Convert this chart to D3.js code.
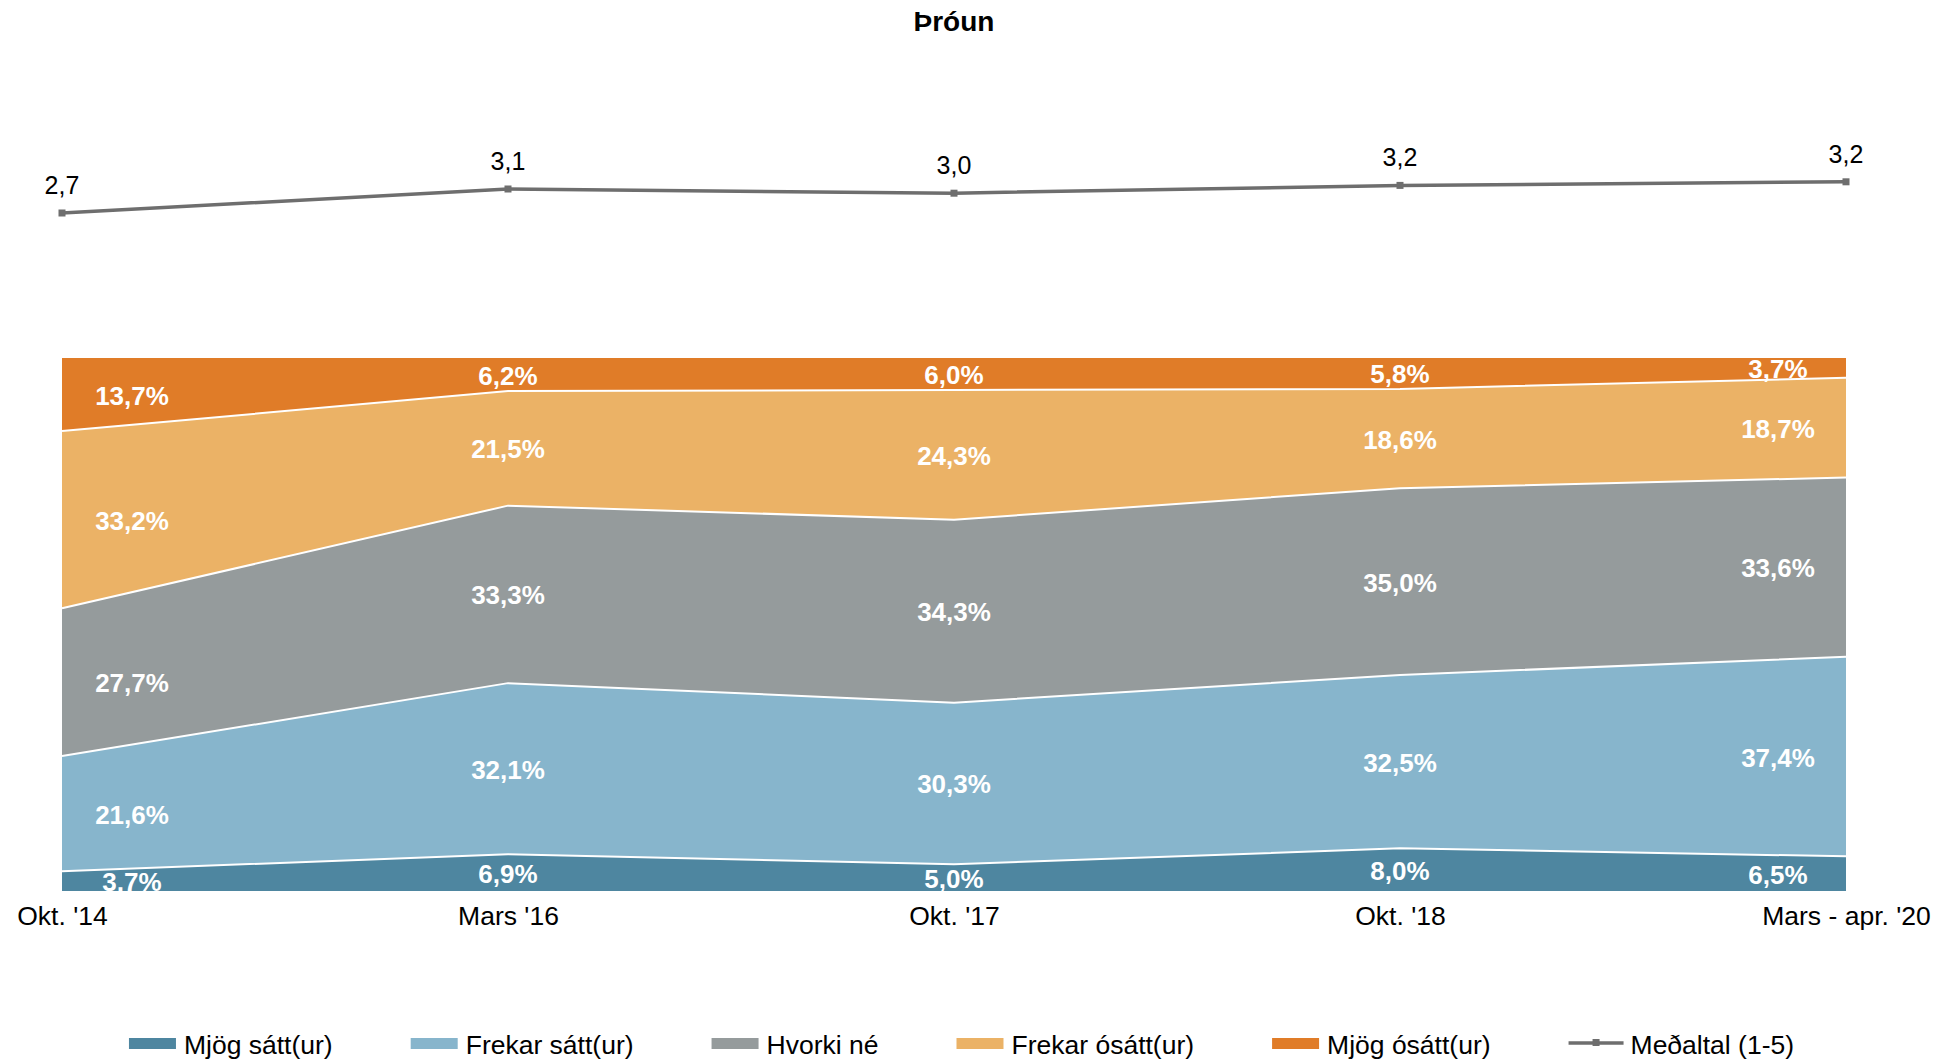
<!DOCTYPE html>
<html>
<head>
<meta charset="utf-8">
<script src="https://cdn.jsdelivr.net/npm/d3@7"></script>
<style>
  body { margin: 0; background: #fff; }
  svg { display: block; font-family: "Liberation Sans", Arial, sans-serif; }
</style>
</head>
<body>
<div id="app"></div>
<script>
// data
const categories = ["Okt. '14", "Mars '16", "Okt. '17", "Okt. '18", "Mars - apr. '20"]
const seriesNames = ['Mjög sátt(ur)', 'Frekar sátt(ur)', 'Hvorki né', 'Frekar ósátt(ur)', 'Mjög ósátt(ur)']
const mjogSatt = [3.7, 6.9, 5.0, 8.0, 6.5]
const frekarSatt = [21.6, 32.1, 30.3, 32.5, 37.4]
const hvorkiNe = [27.7, 33.3, 34.3, 35.0, 33.6]
const frekarOsatt = [33.2, 21.5, 24.3, 18.6, 18.7]
const mjogOsatt = [13.7, 6.2, 6.0, 5.8, 3.7]
const medaltal = [2.70, 3.10, 3.03, 3.16, 3.22]
const lineName = 'Meðaltal (1-5)'
const colors = ['#4e86a0', '#87b5cc', '#959b9c', '#ebb266', '#e07c28']
const lineColor = '#6e6e6e'

const w = 1949, h = 1061
const plot = {left: 62, right: 1846, top: 358, bottom: 891}

const svg = d3.select('#app').append('svg')
  .attr('width', w)
  .attr('height', h)

// title
svg.append('text')
  .attr('x', 954).attr('y', 31)
  .attr('text-anchor', 'middle')
  .style('font-size', '28px').style('font-weight', 'bold')
  .text('Þróun')

const table = categories.map((c, i) => ({
  cat: c,
  s0: mjogSatt[i], s1: frekarSatt[i], s2: hvorkiNe[i], s3: frekarOsatt[i], s4: mjogOsatt[i]
}))
const keys = ['s0', 's1', 's2', 's3', 's4']
const stacked = d3.stack().keys(keys).offset(d3.stackOffsetExpand)(table)

const x = d3.scalePoint().domain(categories).range([plot.left, plot.right])
const y = d3.scaleLinear().domain([0, 1]).range([plot.bottom, plot.top])
// secondary axis for the average line
const yLine = d3.scaleLinear().domain([0, 5]).range([375, 75])

const area = d3.area()
  .x(d => x(d.data.cat))
  .y0(d => y(d[0]))
  .y1(d => y(d[1]))

svg.append('g').selectAll('path')
  .data(stacked)
  .enter().append('path')
  .attr('d', area)
  .attr('fill', (d, i) => colors[i])

// white borders between layers
const edge = d3.line().x(d => x(d.data.cat)).y(d => y(d[1]))
svg.append('g').selectAll('path')
  .data(stacked.slice(0, 4))
  .enter().append('path')
  .attr('d', edge)
  .attr('fill', 'none')
  .attr('stroke', '#fff')
  .attr('stroke-width', 2)

// data labels, clipped to plot area
svg.append('clipPath').attr('id', 'clip')
  .append('rect')
  .attr('x', plot.left).attr('y', plot.top)
  .attr('width', plot.right - plot.left).attr('height', plot.bottom - plot.top)

const fmt = v => d3.format('.1f')(v).replace('.', ',')
const labelData = []
stacked.forEach((layer, li) => {
  layer.forEach((d, i) => {
    labelData.push({i: i, v: d.data[keys[li]], mid: (d[0] + d[1]) / 2})
  })
})
const n = categories.length
svg.append('g').attr('clip-path', 'url(#clip)')
  .selectAll('text')
  .data(labelData)
  .enter().append('text')
  .attr('x', d => x(categories[d.i]) + (d.i === 0 ? 70 : d.i === n - 1 ? -68 : 0))
  .attr('y', d => y(d.mid) + 10)
  .attr('text-anchor', 'middle')
  .attr('fill', '#fff')
  .style('font-size', '26px').style('font-weight', 'bold')
  .text(d => fmt(d.v) + '%')

// x axis
const xAxis = d3.axisBottom(x).tickSize(0).tickPadding(15)
const gx = svg.append('g')
  .attr('transform', 'translate(0,' + plot.bottom + ')')
  .call(xAxis)
gx.select('.domain').remove()
gx.selectAll('text')
  .style('font-size', '26.5px')
  .style('font-family', '"Liberation Sans", Arial, sans-serif')
  .attr('fill', '#000')

// average line
const line = d3.line().x((d, i) => x(categories[i])).y(d => yLine(d))
svg.append('path')
  .datum(medaltal)
  .attr('d', line)
  .attr('fill', 'none')
  .attr('stroke', lineColor)
  .attr('stroke-width', 3.5)

svg.append('g').selectAll('rect')
  .data(medaltal)
  .enter().append('rect')
  .attr('x', (d, i) => x(categories[i]) - 3.5)
  .attr('y', d => yLine(d) - 3.5)
  .attr('width', 7).attr('height', 7)
  .attr('fill', lineColor)

svg.append('g').selectAll('text')
  .data(medaltal)
  .enter().append('text')
  .attr('x', (d, i) => x(categories[i]))
  .attr('y', d => yLine(d) - 19)
  .attr('text-anchor', 'middle')
  .style('font-size', '25px')
  .text(d => fmt(d))

// legend
const legend = svg.append('g')
const items = seriesNames.map((s, i) => ({name: s, color: colors[i], type: 'area'}))
items.push({name: lineName, color: lineColor, type: 'line'})
const gap = 78
const legendFont = '26.5px'
let widths = []
items.forEach(it => {
  const t = legend.append('text').style('font-size', legendFont).text(it.name)
  widths.push(t.node().getComputedTextLength())
  t.remove()
})
const itemW = widths.map(tw => 47 + 8 + tw)
const total = d3.sum(itemW) + gap * (items.length - 1)
let lx = 958 - total / 2
items.forEach((it, i) => {
  const g = legend.append('g').attr('transform', 'translate(' + lx + ',0)')
  if (it.type === 'area') {
    g.append('rect').attr('x', 0).attr('y', 1038).attr('width', 47).attr('height', 11).attr('fill', it.color)
  } else {
    g.append('line').attr('x1', 0).attr('x2', 55).attr('y1', 1043).attr('y2', 1043)
      .attr('stroke', it.color).attr('stroke-width', 3.5)
    g.append('rect').attr('x', 24).attr('y', 1039).attr('width', 7).attr('height', 7).attr('fill', it.color)
  }
  g.append('text')
    .attr('x', it.type === 'area' ? 55 : 62)
    .attr('y', 1054)
    .style('font-size', legendFont)
    .text(it.name)
  lx += itemW[i] + gap
})
</script>
</body>
</html>
